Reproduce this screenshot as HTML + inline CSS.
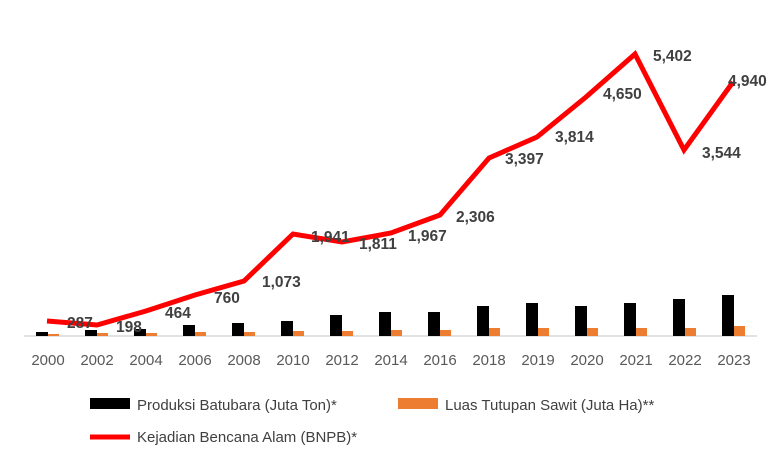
<!DOCTYPE html>
<html><head><meta charset="utf-8"><style>
html,body{margin:0;padding:0;background:#fff;}
svg{display:block;font-family:"Liberation Sans",sans-serif;}
</style></head><body>
<svg width="783" height="472" viewBox="0 0 783 472">
<line x1="24" y1="336" x2="757" y2="336" stroke="#d9d9d9" stroke-width="1.5"/>
<g>
<rect x="36" y="332" width="12" height="4" fill="#000"/><rect x="48" y="334" width="11" height="2" fill="#ed7d31"/>
<rect x="85" y="330" width="12" height="6" fill="#000"/><rect x="97" y="333" width="11" height="3" fill="#ed7d31"/>
<rect x="134" y="329" width="12" height="7" fill="#000"/><rect x="146" y="333" width="11" height="3" fill="#ed7d31"/>
<rect x="183" y="325" width="12" height="11" fill="#000"/><rect x="195" y="332" width="11" height="4" fill="#ed7d31"/>
<rect x="232" y="323" width="12" height="13" fill="#000"/><rect x="244" y="332" width="11" height="4" fill="#ed7d31"/>
<rect x="281" y="321" width="12" height="15" fill="#000"/><rect x="293" y="331" width="11" height="5" fill="#ed7d31"/>
<rect x="330" y="315" width="12" height="21" fill="#000"/><rect x="342" y="331" width="11" height="5" fill="#ed7d31"/>
<rect x="379" y="312" width="12" height="24" fill="#000"/><rect x="391" y="330" width="11" height="6" fill="#ed7d31"/>
<rect x="428" y="312" width="12" height="24" fill="#000"/><rect x="440" y="330" width="11" height="6" fill="#ed7d31"/>
<rect x="477" y="306" width="12" height="30" fill="#000"/><rect x="489" y="328" width="11" height="8" fill="#ed7d31"/>
<rect x="526" y="303" width="12" height="33" fill="#000"/><rect x="538" y="328" width="11" height="8" fill="#ed7d31"/>
<rect x="575" y="306" width="12" height="30" fill="#000"/><rect x="587" y="328" width="11" height="8" fill="#ed7d31"/>
<rect x="624" y="303" width="12" height="33" fill="#000"/><rect x="636" y="328" width="11" height="8" fill="#ed7d31"/>
<rect x="673" y="299" width="12" height="37" fill="#000"/><rect x="685" y="328" width="11" height="8" fill="#ed7d31"/>
<rect x="722" y="295" width="12" height="41" fill="#000"/><rect x="734" y="326" width="11" height="10" fill="#ed7d31"/>
</g>
<polyline fill="none" stroke="#ff0000" stroke-width="5" points="47,321 97,325 146,311 195,295 244,281 293,234 342,242 391,233 440,215 489,158 537,137 586,97 635,54 684,150 733,82"/>
<g font-size="15.5" font-weight="bold" fill="#404040">
<text x="67" y="328">287</text>
<text x="116" y="332">198</text>
<text x="165" y="318">464</text>
<text x="214" y="303">760</text>
<text x="262" y="287">1,073</text>
<text x="311" y="242">1,941</text>
<text x="359" y="249">1,811</text>
<text x="408" y="241">1,967</text>
<text x="456" y="222">2,306</text>
<text x="505" y="164">3,397</text>
<text x="555" y="142">3,814</text>
<text x="603" y="99">4,650</text>
<text x="653" y="61">5,402</text>
<text x="702" y="158">3,544</text>
<text x="728" y="86">4,940</text>
</g>
<g font-size="15" fill="#595959" text-anchor="middle">
<text x="48" y="365">2000</text><text x="97" y="365">2002</text><text x="146" y="365">2004</text><text x="195" y="365">2006</text><text x="244" y="365">2008</text><text x="293" y="365">2010</text><text x="342" y="365">2012</text><text x="391" y="365">2014</text><text x="440" y="365">2016</text><text x="489" y="365">2018</text><text x="538" y="365">2019</text><text x="587" y="365">2020</text><text x="636" y="365">2021</text><text x="685" y="365">2022</text><text x="734" y="365">2023</text>
</g>
<rect x="90" y="398" width="40" height="11" fill="#000"/>
<text x="137" y="410" font-size="15" fill="#404040">Produksi Batubara (Juta Ton)*</text>
<rect x="398" y="398" width="40" height="11" fill="#ed7d31"/>
<text x="445" y="410" font-size="15" fill="#404040">Luas Tutupan Sawit (Juta Ha)**</text>
<line x1="90" y1="437" x2="130" y2="437" stroke="#ff0000" stroke-width="5"/>
<text x="137" y="442" font-size="15" fill="#404040">Kejadian Bencana Alam (BNPB)*</text>
</svg>
</body></html>
